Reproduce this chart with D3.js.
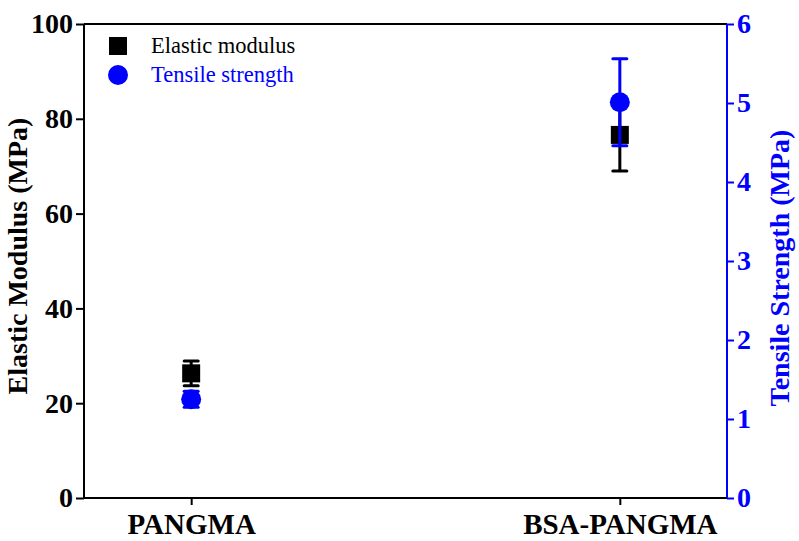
<!DOCTYPE html>
<html>
<head>
<meta charset="utf-8">
<script src="https://cdn.jsdelivr.net/npm/d3@7"></script>
<style>
  body { margin: 0; background: #fff; }
  text { font-family: "Liberation Serif", "Times New Roman", serif; }
</style>
</head>
<body>
<script>
// data
var categories = ['PANGMA', 'BSA-PANGMA'];
var modulus = [26.3, 76.6];
var modulusErr = [2.6, 7.6];
var strength = [1.25, 5.01];
var strengthErr = [0.1, 0.55];
var leftTicks = [0, 20, 40, 60, 80, 100];
var rightTicks = [0, 1, 2, 3, 4, 5, 6];

var width = 799, height = 541;
var margin = {left: 84, right: 72, top: 24, bottom: 43};
var blue = '#0000ff';

var svg = d3.select('body').append('svg')
  .attr('width', width).attr('height', height);

var x = d3.scalePoint().domain(categories)
  .range([margin.left, width - margin.right]).padding(0.25);
var yL = d3.scaleLinear().domain([0, 100]).range([height - margin.bottom, margin.top]);
var yR = d3.scaleLinear().domain([0, 6]).range([height - margin.bottom, margin.top]);

// frame top line
svg.append('line')
  .attr('x1', margin.left).attr('x2', width - margin.right)
  .attr('y1', margin.top).attr('y2', margin.top)
  .attr('stroke', '#000').attr('stroke-width', 2);

// left axis
var gL = svg.append('g').attr('transform', 'translate(' + margin.left + ',0)')
  .call(d3.axisLeft(yL).tickValues(leftTicks).tickSize(8).tickPadding(3));
gL.selectAll('path, line').attr('stroke', '#000').attr('stroke-width', 2);
gL.select('.domain').attr('d', 'M0,' + yL(0) + 'V' + yL(100));
gL.selectAll('text').attr('font-size', 28).attr('font-weight', 'bold')
  .attr('font-family', 'Liberation Serif').attr('fill', '#000');

// right axis
var gR = svg.append('g').attr('transform', 'translate(' + (width - margin.right) + ',0)')
  .call(d3.axisRight(yR).tickValues(rightTicks).tickFormat(d3.format('d')).tickSize(7).tickPadding(3));
gR.selectAll('path, line').attr('stroke', blue).attr('stroke-width', 2);
gR.select('.domain').attr('d', 'M0,' + yR(0) + 'V' + yR(6));
gR.selectAll('text').attr('font-size', 28).attr('font-weight', 'bold')
  .attr('font-family', 'Liberation Serif').attr('fill', blue);

// bottom axis
var gB = svg.append('g').attr('transform', 'translate(0,' + (height - margin.bottom) + ')')
  .call(d3.axisBottom(x).tickSize(7).tickPadding(8));
gB.selectAll('path, line').attr('stroke', '#000').attr('stroke-width', 2);
gB.select('.domain').attr('d', 'M' + margin.left + ',0H' + (width - margin.right));
gB.selectAll('text').attr('font-size', 29).attr('font-weight', 'bold')
  .attr('font-family', 'Liberation Serif').attr('fill', '#000');

// axis titles
svg.append('text')
  .attr('transform', 'translate(27,256) rotate(-90)')
  .attr('text-anchor', 'middle')
  .attr('font-size', 28).attr('font-weight', 'bold')
  .text('Elastic Modulus (MPa)');

svg.append('text')
  .attr('transform', 'translate(789,268) rotate(-90)')
  .attr('text-anchor', 'middle')
  .attr('font-size', 28).attr('font-weight', 'bold').attr('fill', blue)
  .text('Tensile Strength (MPa)');

// error bars
function errBars(vals, errs, y, color) {
  var g = svg.append('g');
  vals.forEach(function (v, i) {
    var cx = x(categories[i]);
    var top = y(v + errs[i]), bot = y(v - errs[i]);
    g.append('line').attr('x1', cx).attr('x2', cx).attr('y1', top).attr('y2', bot)
      .attr('stroke', color).attr('stroke-width', 3);
    [top, bot].forEach(function (yy) {
      g.append('line').attr('x1', cx - 7).attr('x2', cx + 7).attr('y1', yy).attr('y2', yy)
        .attr('stroke', color).attr('stroke-width', 3).attr('stroke-linecap', 'round');
    });
  });
}

errBars(modulus, modulusErr, yL, '#000');
svg.selectAll('rect.mod').data(modulus).enter().append('rect')
  .attr('class', 'mod')
  .attr('x', function (d, i) { return x(categories[i]) - 9; })
  .attr('y', function (d) { return yL(d) - 9; })
  .attr('width', 18).attr('height', 18)
  .attr('fill', '#000');

errBars(strength, strengthErr, yR, blue);
svg.selectAll('circle.str').data(strength).enter().append('circle')
  .attr('class', 'str')
  .attr('cx', function (d, i) { return x(categories[i]); })
  .attr('cy', function (d) { return yR(d); })
  .attr('r', 10)
  .attr('fill', blue);

// legend
var leg = svg.append('g');
leg.append('rect').attr('x', 109).attr('y', 37).attr('width', 18).attr('height', 18).attr('fill', '#000');
leg.append('text').attr('x', 151).attr('y', 53).attr('font-size', 22.5).text('Elastic modulus');
leg.append('circle').attr('cx', 118).attr('cy', 75).attr('r', 10).attr('fill', blue);
leg.append('text').attr('x', 151).attr('y', 82).attr('font-size', 22.5).attr('fill', blue).text('Tensile strength');
</script>
</body>
</html>
